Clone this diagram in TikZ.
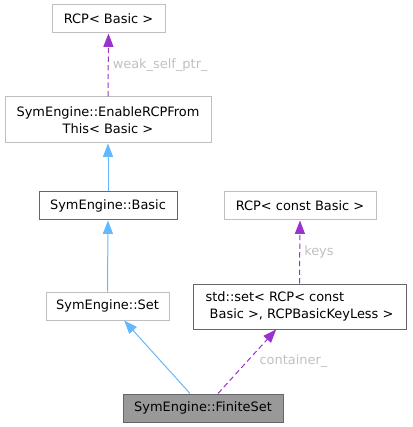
\documentclass[tikz,border=0pt]{standalone}
\usepackage{fontspec}
\setmainfont{DejaVu Sans}
\usetikzlibrary{arrows.meta}
\definecolor{edgeblue}{HTML}{63B8FF}
\definecolor{edgepurple}{HTML}{9A32CD}
\definecolor{boxgrey}{HTML}{BFBFBF}
\definecolor{boxdark}{HTML}{666666}
\definecolor{labelgrey}{HTML}{C0C0C0}
\definecolor{focusfill}{HTML}{999999}
\begin{document}
\begin{tikzpicture}[x=0.75pt, y=-0.75pt,
  box/.style={draw=boxgrey, line width=0.75pt, fill=white, inner sep=0pt, minimum height=21pt, align=center, font=\fontsize{9.7pt}{12.5pt}\selectfont},
  darkbox/.style={box, draw=boxdark},
  inherit/.style={edgeblue, line width=0.75pt, -{Triangle[length=10pt, width=7.5pt]}},
  uses/.style={edgepurple, line width=0.75pt, dash pattern=on 4pt off 2.5pt, -{Triangle[length=10pt, width=7.5pt]}},
  lbl/.style={text=labelgrey, inner sep=0pt, anchor=west, font=\fontsize{9.7pt}{12.5pt}\selectfont}]
\useasboundingbox (0,0) rectangle (412,427);
\node[box, minimum width=84.75pt] (rcpbasic) at (108.5,19) {RCP< Basic >};
\node[box, minimum width=154.5pt, minimum height=34.5pt] (enablercp) at (108,120) {SymEngine::EnableRCPFrom\\This< Basic >};
\node[darkbox, minimum width=103.5pt] (basic) at (108,206) {SymEngine::Basic};
\node[box, minimum width=92.25pt] (set) at (107.5,306) {SymEngine::Set};
\node[box, minimum width=114pt] (rcpconst) at (300,206) {RCP< const Basic >};
\node[darkbox, minimum width=159.75pt, minimum height=33.75pt, align=left] (stdset) at (299.5,306.5) {std::set< RCP< const\\\ Basic >, RCPBasicKeyLess >};
\node[darkbox, fill=focusfill, minimum width=120pt] (finiteset) at (203,408) {SymEngine::FiniteSet};
\draw[uses] (enablercp.north) -- node[lbl, xshift=3pt] (lweak) {weak\_self\_ptr\_} (rcpbasic.south);
\draw[inherit] (basic.north) -- (enablercp.south);
\draw[inherit] (set.north) -- (basic.south);
\draw[inherit] ([xshift=-9.75pt]finiteset.north) -- ([xshift=12.5pt]set.south);
\draw[uses] ([xshift=11.25pt]finiteset.north) -- node[lbl, xshift=9pt] (lcontainer) {container\_} ([xshift=-17.5pt]stdset.south);
\draw[uses] (stdset.north) -- node[lbl, xshift=3pt] (lkeys) {keys} (rcpconst.south);
\end{tikzpicture}
\end{document}
